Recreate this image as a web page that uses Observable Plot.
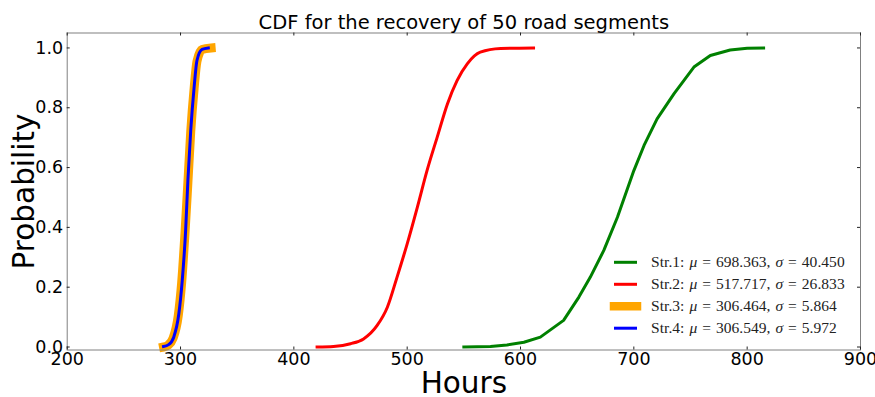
<!DOCTYPE html>
<html><head><meta charset="utf-8">
<script src="https://cdn.jsdelivr.net/npm/d3@7"></script>
<script src="https://cdn.jsdelivr.net/npm/@observablehq/plot@0.6"></script>
<style>
html,body{margin:0;padding:0;background:#fff;}
#wrap{position:relative;width:875px;height:397px;color:#000;}
#wrap svg{position:absolute;left:0;top:0;}
</style></head><body><div id="wrap"></div>
<script>
const titleText = "CDF for the recovery of 50 road segments";
const xLabel = "Hours";
const yLabel = "Probability";
const xTicks = [200, 300, 400, 500, 600, 700, 800, 900];
const yTicks = [0.0, 0.2, 0.4, 0.6, 0.8, 1.0];

const strategies = ["Str.1", "Str.2", "Str.3", "Str.4"];
const mus = ["698.363", "517.717", "306.464", "306.549"];
const sigmas = ["40.450", "26.833", "5.864", "5.972"];
const colors = ["#008000", "#ff0000", "#ffa500", "#0000ff"];

const str1Hours = [550, 573.5, 588, 603, 617.5, 638, 651.5, 661.5, 673.5, 685.5, 700, 709, 720.5, 735.5, 753, 767.5, 785, 800, 814.5];
const str1Prob  = [0.0, 0.002, 0.007, 0.016, 0.033, 0.089, 0.167, 0.233, 0.323, 0.434, 0.59, 0.674, 0.763, 0.847, 0.936, 0.975, 0.993, 0.999, 1.0];

const str2Hours = [420.5, 435, 450, 461.5, 473.5, 482.5, 491, 500, 509, 517.5, 526.5, 535.5, 544, 553, 564.5, 582.5, 611.5];
const str2Prob  = [0.0, 0.002, 0.011, 0.027, 0.072, 0.133, 0.233, 0.345, 0.468, 0.59, 0.702, 0.813, 0.891, 0.947, 0.986, 0.998, 1.0];

const str3Hours = [285, 289, 293.5, 298, 301, 304, 306.5, 309, 312, 314.5, 319, 327];
const str3Prob  = [0.0, 0.006, 0.03, 0.105, 0.215, 0.385, 0.55, 0.72, 0.865, 0.955, 0.995, 1.0];

const str4Hours = [285, 289.5, 294, 298.5, 301.5, 304.5, 306.5, 309, 312, 314.5, 319, 324.5];
const str4Prob  = [0.002, 0.008, 0.033, 0.111, 0.222, 0.39, 0.557, 0.724, 0.869, 0.958, 0.995, 1.0];

const W = 875, H = 397, mL = 66.7, mR = 15, mT = 32.5, mB = 47.5;
const fw = W - mL - mR, fh = H - mT - mB;
const FONT = "DejaVu Sans, Noto Sans, sans-serif";
const tick = 3;

const toRows = (xs, ys) => xs.map((x, i) => ({hours: x, prob: ys[i]}));
const series = [
  {rows: toRows(str1Hours, str1Prob), color: colors[0], w: 3, curve: "linear"},
  {rows: toRows(str2Hours, str2Prob), color: colors[1], w: 3, curve: "monotone-x"},
  {rows: toRows(str3Hours, str3Prob), color: colors[2], w: 9, curve: "monotone-x"},
  {rows: toRows(str4Hours, str4Prob), color: colors[3], w: 3, curve: "monotone-x"}
];

const chart = Plot.plot({
  width: W, height: H,
  marginLeft: mL, marginRight: mR, marginTop: mT, marginBottom: mB,
  style: {fontFamily: FONT, color: "#000", background: "transparent", overflow: "visible"},
  x: {domain: [200, 900]},
  y: {domain: [-0.01, 1.05]},
  marks: [
    ...series.map(s => Plot.line(s.rows, {x: "hours", y: "prob", stroke: s.color, strokeWidth: s.w,
      strokeLinecap: "square", strokeLinejoin: "round", curve: s.curve})),
    Plot.frame({stroke: "#808080", strokeWidth: 1}),
    Plot.tickX(xTicks, {x: d => d, insetTop: fh - tick, stroke: "#222"}),
    Plot.tickX(xTicks, {x: d => d, insetBottom: fh - tick, stroke: "#222"}),
    Plot.tickY(yTicks, {y: d => d, insetRight: fw - tick, stroke: "#222"}),
    Plot.tickY(yTicks, {y: d => d, insetLeft: fw - tick, stroke: "#222"}),
    Plot.axisX(xTicks, {tickSize: 0, tickPadding: 3, fontSize: 17.5, fontFamily: FONT, fill: "#000", label: null, tickFormat: d => String(d)}),
    Plot.axisY(yTicks, {tickSize: 0, tickPadding: 4, fontSize: 17.5, fontFamily: FONT, fill: "#000", label: null, tickFormat: d => d.toFixed(1)}),
    Plot.text([titleText], {text: d => d, frameAnchor: "top", lineAnchor: "bottom", dy: -4, fontSize: 19.5, fontFamily: FONT, fill: "#000"}),
    Plot.text([xLabel], {text: d => d, frameAnchor: "bottom", lineAnchor: "bottom", dy: 42.5, fontSize: 29.5, fontFamily: FONT, fill: "#000"}),
    Plot.text([yLabel], {text: d => d, frameAnchor: "left", textAnchor: "middle", lineAnchor: "bottom", rotate: -90, dx: -33.5, fontSize: 29.5, fontFamily: FONT, fill: "#000"})
  ]
});
const wrap = document.getElementById("wrap");
wrap.appendChild(chart);

// Legend overlay (no frame, lower right)
const legendRowY = [262.3, 284.3, 306.2, 328.2];
const leg = d3.select(wrap).append("svg")
  .attr("width", W).attr("height", H)
  .style("pointer-events", "none");
strategies.forEach((name, i) => {
  const y = legendRowY[i];
  leg.append("line")
    .attr("x1", 614).attr("x2", 637).attr("y1", y).attr("y2", y)
    .attr("stroke", colors[i]).attr("stroke-width", i === 2 ? 8.5 : 3)
    .attr("stroke-linecap", i === 2 ? "square" : "butt");
  const t = leg.append("text")
    .attr("x", 651).attr("y", y + 5)
    .attr("font-family", "Liberation Serif, DejaVu Serif, serif")
    .attr("font-size", 15.5).attr("fill", "#222")
    .attr("word-spacing", 1).attr("letter-spacing", 0.05);
  t.append("tspan").text(name + ": ");
  t.append("tspan").attr("font-style", "italic").text("μ");
  t.append("tspan").text(" = " + mus[i] + ", ");
  t.append("tspan").attr("font-style", "italic").text("σ");
  t.append("tspan").text(" = " + sigmas[i]);
});
</script></body></html>
